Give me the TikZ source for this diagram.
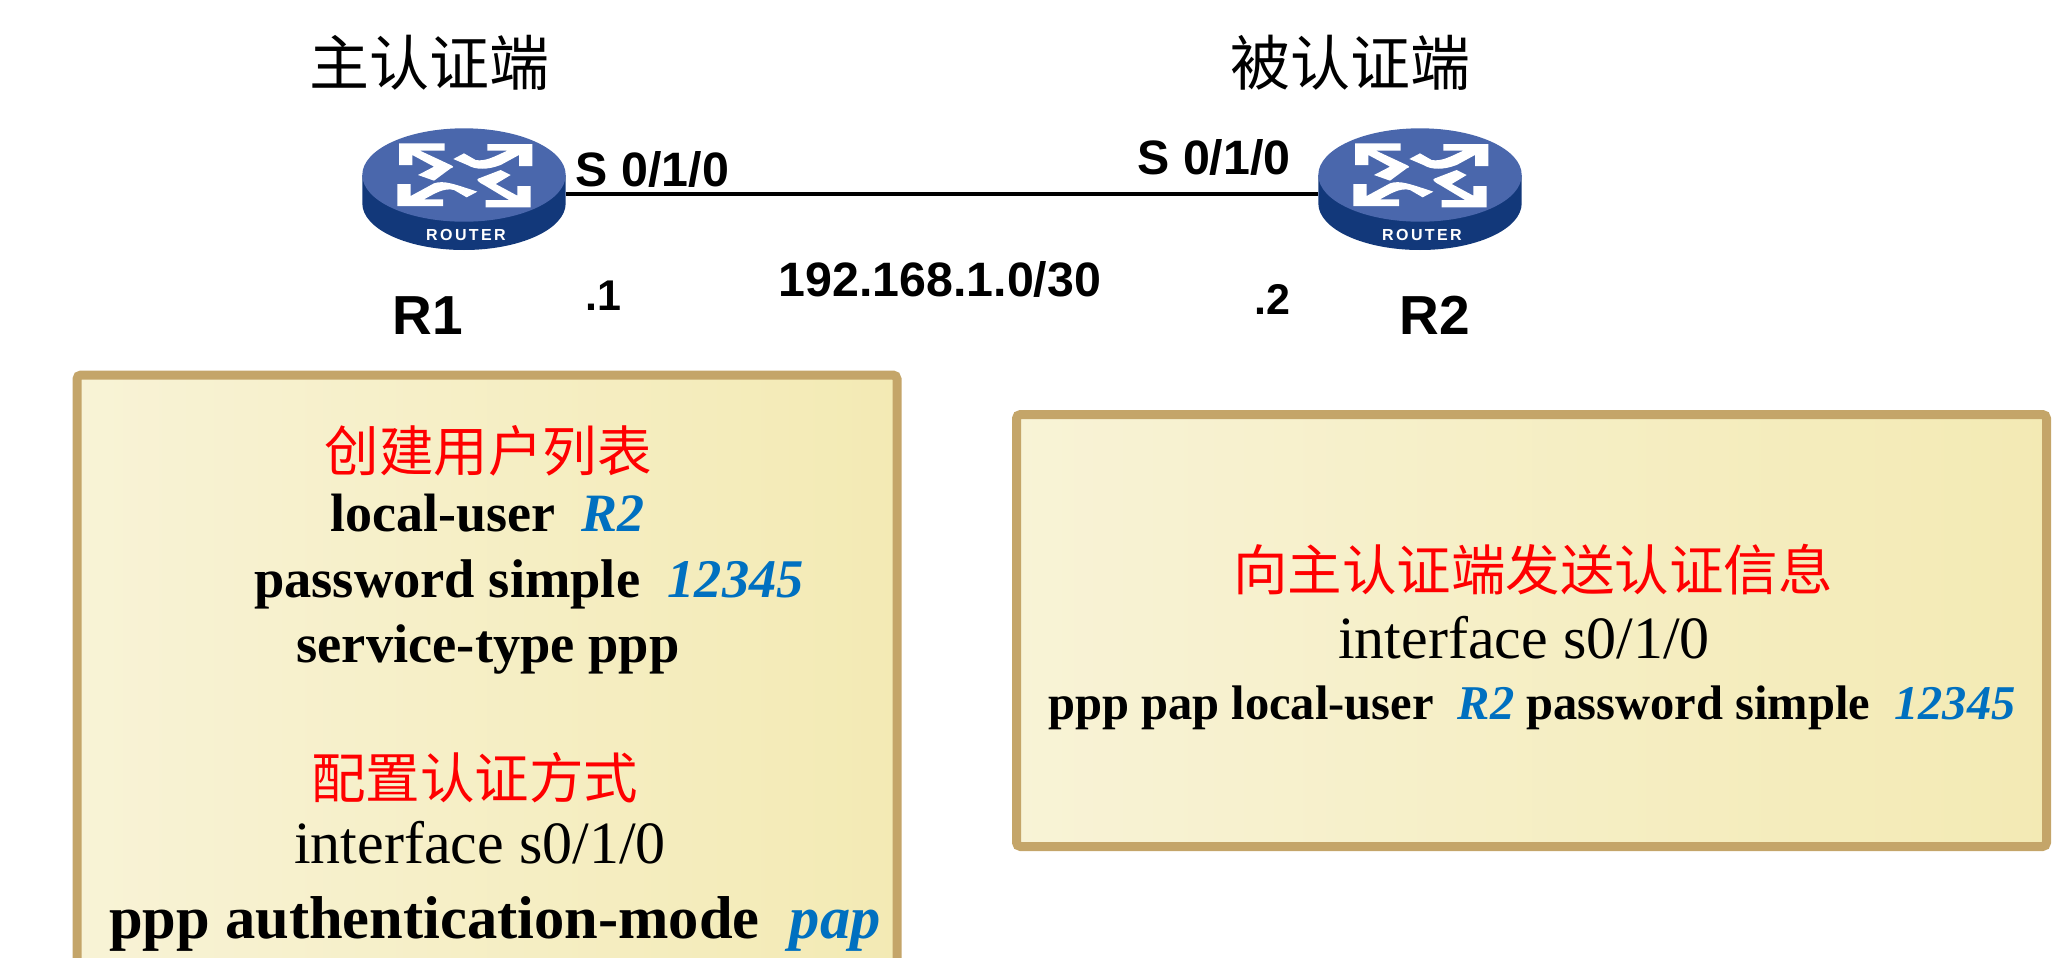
\documentclass[tikz,border=0pt]{standalone}
\usepackage{fontspec}
\usepackage{xcolor}
\setmainfont{Liberation Serif}
\setsansfont{Liberation Sans}
\newfontfamily\cjk{Noto Sans CJK SC}
\newfontfamily\routerfont[LetterSpace=15]{Liberation Sans}
\definecolor{box-edge}{HTML}{C4A569}
\definecolor{box-left}{HTML}{F8F3D6}
\definecolor{box-right}{HTML}{F3EAB4}
\definecolor{cmd-blue}{HTML}{0070C0}
\definecolor{router-top}{HTML}{4A67AC}
\definecolor{router-side}{HTML}{12387A}
\newcommand{\bluearg}[1]{{\color{cmd-blue}\bfseries\itshape #1}}
\tikzset{
    cream-box/.style = {draw=box-edge, line width=9pt, rectangle, rounded corners=4pt, left color=box-left, right color=box-right, inner sep=0pt},
    router-port/.style = {minimum width=203.4pt, minimum height=1pt, inner sep=0pt, outer sep=0pt},
    role-title/.style = {anchor=base, inner sep=0pt, font=\cjk\fontsize{60}{66}\selectfont},
    red-title/.style = {anchor=base, inner sep=0pt, text=red, font=\cjk\fontsize{54.5}{60}\selectfont},
    sans-label/.style = {anchor=base, inner sep=0pt, font=\sffamily\bfseries\fontsize{48.3}{54}\selectfont},
    router-name/.style = {anchor=base, inner sep=0pt, font=\sffamily\bfseries\fontsize{55}{60}\selectfont},
    ip-label/.style = {anchor=base, inner sep=0pt, font=\sffamily\bfseries\fontsize{43}{48}\selectfont},
    cmd-line/.style = {anchor=base, inner sep=0pt, font=\bfseries\fontsize{#1}{#1}\selectfont},
    plain-line/.style = {anchor=base, inner sep=0pt, font=\fontsize{60}{66}\selectfont},
    router-icon/.pic = {
        \fill[router-side] (-101.7,-19) -- (-101.7,9.3) arc[start angle=180, end angle=360, x radius=101.7pt, y radius=46.7pt] -- (101.7,-19) -- cycle;
        \fill[router-top] (0,-19) ellipse [x radius=101.7pt, y radius=46.7pt];
        \begin{scope}[x=0.3333pt, y=0.3333pt, fill=white]
        % arrows, top left first and then clockwise
        \fill (-195,152) -- (-58,152) -- (-58,130) -- (-132,130) -- (-40,87) .. controls (-30,82) and (-30,80) .. (-40,77) -- (-90,40) -- (-138,57) -- (-90,82) -- (-155,117) -- (-155,87) -- (-195,87) -- cycle;
        \fill (205,150) -- (205,84) -- (165,84) -- (165,117) -- (110,87) .. controls (70,72) and (35,72) .. (10,87) -- (-32,105) -- (0,122) -- (35,102) .. controls (65,97) and (90,112) .. (130,130) -- (70,130) -- (70,150) -- cycle;
        \fill (200,24) -- (200,-40) -- (65,-40) -- (65,-18) -- (135,-18) -- (60,27) .. controls (40,37) and (35,45) .. (45,47) -- (110,72) -- (140,57) -- (95,30) -- (160,-5) -- (160,24) -- cycle;
        \fill (-200,-36) -- (-200,30) -- (-160,30) -- (-160,-6) -- (-90,32) .. controls (-60,42) and (-30,30) .. (40,7) -- (8,-10) -- (-30,12) .. controls (-60,20) and (-90,0) .. (-120,-16) -- (-63,-16) -- (-63,-36) -- cycle;
        \end{scope}
        \node[inner sep=0pt, text=white, font=\routerfont\bfseries\fontsize{16}{18}\selectfont] (-text) at (2,41) {ROUTER};
    },
}

\begin{document}
\begin{tikzpicture}[x=1pt, y=-1pt]
\clip[use as bounding box] (0,0) rectangle (2064,958);

\node[router-port] (R1) at (464,194) {};
\node[router-port] (R2) at (1420,194) {};
\draw[line width=4pt] (R1.east) -- (R2.west);
\pic (R1-icon) at (R1) {router-icon};
\pic (R2-icon) at (R2) {router-icon};

\node[role-title] (main-role) at (429,85) {主认证端};
\node[role-title] (peer-role) at (1350,85) {被认证端};
\node[sans-label] (R1-port) at (652.5,186) {S 0/1/0};
\node[sans-label] (R2-port) at (1214,174) {S 0/1/0};
\node[router-name] (R1-name) at (428,334) {R1};
\node[router-name] (R2-name) at (1435,334) {R2};
\node[ip-label] (R1-ip) at (603,310) {.1};
\node[ip-label] (R2-ip) at (1272,314) {.2};
\node[sans-label] (net-ip) at (940,296) {192.168.1.0/30};

% left box runs off the bottom of the page
\node[cream-box, minimum width=820pt, minimum height=625pt] (left-box) at (487,687.5) {};
\node[red-title] (user-title) at (488,471) {创建用户列表};
\node[cmd-line=54] (user-line) at (487.5,531) {local-user\ \ \bluearg{R2}};
\node[cmd-line=54.5] (pass-line) at (529,597) {password simple\ \ \bluearg{12345}};
\node[cmd-line=54.5] (type-line) at (488,662) {service-type ppp};
\node[red-title] (auth-title) at (474.5,798) {配置认证方式};
\node[plain-line] (left-iface) at (480,863) {interface s0/1/0};
\node[cmd-line=60.5] (mode-line) at (495,938) {ppp authentication-mode\ \ \bluearg{pap}};

\node[cream-box, minimum width=1030pt, minimum height=432pt] (right-box) at (1531.5,630.5) {};
\node[red-title] (send-title) at (1533,590) {向主认证端发送认证信息};
\node[plain-line] (right-iface) at (1524,658) {interface s0/1/0};
\node[cmd-line=48.5] (pap-line) at (1532,719) {ppp pap local-user\ \ \bluearg{R2} password simple\ \ \bluearg{12345}};
\end{tikzpicture}
\end{document}
